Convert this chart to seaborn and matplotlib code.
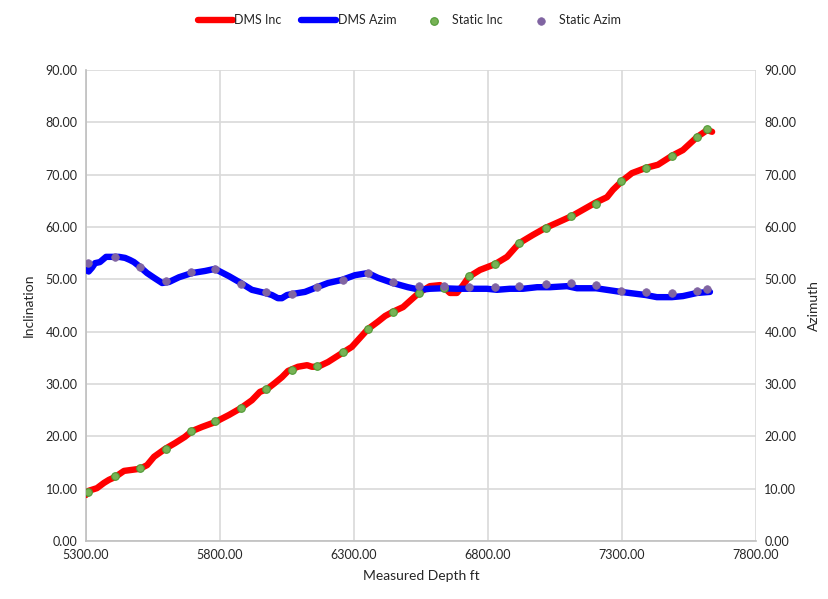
import matplotlib
matplotlib.use('Agg')
import matplotlib.pyplot as plt
from matplotlib.ticker import FormatStrFormatter, MultipleLocator
import pandas as pd
import seaborn as sns

# DMS survey (continuous)
dms_inc_depth = [5300, 5310, 5341, 5367, 5386, 5408, 5442, 5472, 5501, 5528, 5554, 5595,
                 5632, 5669, 5695, 5733, 5781, 5834, 5878, 5919, 5949, 5975, 6005, 6031,
                 6054, 6091, 6125, 6143, 6166, 6203, 6255, 6292, 6322, 6352, 6389, 6416,
                 6445, 6483, 6520, 6542, 6583, 6621, 6639, 6658, 6684, 6707, 6729, 6770,
                 6826, 6871, 6916, 6968, 7013, 7057, 7113, 7199, 7244, 7266, 7300, 7337,
                 7389, 7434, 7486, 7527, 7580, 7617, 7636]
dms_inc = [8.8, 9.6, 10.1, 11.1, 11.7, 12.2, 13.4, 13.6, 13.8, 14.5, 16.1, 17.6,
           18.7, 19.9, 21.0, 21.8, 22.7, 24.1, 25.4, 26.9, 28.5, 29.0, 30.2, 31.3,
           32.5, 33.3, 33.6, 33.3, 33.3, 34.2, 35.9, 37.1, 38.8, 40.5, 41.9, 43.0,
           43.8, 44.7, 46.4, 47.4, 48.7, 48.9, 48.3, 47.4, 47.4, 48.9, 50.5, 51.8,
           52.9, 54.3, 56.9, 58.5, 59.8, 60.8, 62.1, 64.6, 65.7, 67.1, 68.8, 70.3,
           71.3, 71.9, 73.6, 74.7, 77.2, 78.5, 78.2]

dms_azim_depth = [5300, 5310, 5322, 5334, 5352, 5375, 5397, 5423, 5446, 5464, 5479, 5501,
                  5528, 5554, 5584, 5610, 5647, 5695, 5744, 5781, 5834, 5878, 5919, 5968,
                  5994, 6016, 6031, 6050, 6069, 6117, 6162, 6203, 6255, 6304, 6352, 6389,
                  6445, 6501, 6546, 6583, 6632, 6684, 6733, 6796, 6833, 6882, 6930, 6983,
                  7031, 7095, 7132, 7203, 7296, 7389, 7430, 7486, 7527, 7580, 7628]
dms_azim = [51.8, 51.5, 52.2, 53.1, 53.3, 54.3, 54.3, 54.3, 54.1, 53.7, 53.3, 52.4,
            51.2, 50.3, 49.3, 49.5, 50.4, 51.2, 51.6, 52.0, 50.6, 49.3, 48.0, 47.4,
            47.0, 46.4, 46.4, 47.0, 47.2, 47.6, 48.5, 49.3, 49.9, 50.8, 51.2, 50.3,
            49.3, 48.5, 48.0, 48.2, 48.3, 48.2, 48.2, 48.2, 48.0, 48.2, 48.2, 48.5,
            48.5, 48.7, 48.3, 48.3, 47.6, 47.0, 46.6, 46.6, 46.8, 47.4, 47.6]

# static survey stations
static_depth = [5307, 5408, 5501, 5599, 5692, 5781, 5878, 5972, 6069, 6162, 6259, 6352,
                6446, 6542, 6635, 6729, 6826, 6916, 7016, 7110, 7203, 7296, 7390, 7487,
                7580, 7617]
static_inc = [9.4, 12.4, 14.0, 17.6, 21.0, 22.9, 25.4, 29.0, 32.7, 33.4, 36.1, 40.5,
              43.8, 47.4, 48.4, 50.6, 52.9, 56.9, 59.8, 62.1, 64.4, 68.8, 71.3, 73.6,
              77.2, 78.7]
static_azim = [53.1, 54.3, 52.4, 49.7, 51.4, 52.0, 49.1, 47.6, 47.2, 48.5, 49.9, 51.2,
               49.5, 48.7, 48.7, 48.5, 48.5, 48.7, 49.1, 49.3, 48.9, 47.8, 47.6, 47.4,
               47.8, 48.2]

depth_ticks = [5300, 5800, 6300, 6800, 7300, 7800]

sns.set_theme(style='white')
plt.rcParams['font.family'] = ['Lato', 'DejaVu Sans']

inc_df = pd.DataFrame({'depth': dms_inc_depth, 'value': dms_inc})
azim_df = pd.DataFrame({'depth': dms_azim_depth, 'value': dms_azim})
static_df = pd.DataFrame({'depth': static_depth, 'inc': static_inc, 'azim': static_azim})

fig = plt.figure(figsize=(8.29, 5.99), dpi=100)
ax = fig.add_axes([0.1037, 0.0968, 0.8083, 0.7863])

sns.lineplot(data=inc_df, x='depth', y='value', sort=False, color='#ff0000',
             linewidth=4.6, solid_capstyle='round', label='DMS Inc', ax=ax, zorder=3)
sns.lineplot(data=azim_df, x='depth', y='value', sort=False, color='#0000ff',
             linewidth=4.6, solid_capstyle='round', label='DMS Azim', ax=ax, zorder=4)
sns.scatterplot(data=static_df, x='depth', y='inc', color='#77b255', edgecolor='#4f9a35',
                linewidth=0.8, s=30, label='Static Inc', ax=ax, zorder=5)
sns.scatterplot(data=static_df, x='depth', y='azim', color='#8064a2', edgecolor='#8064a2',
                linewidth=0.5, s=30, label='Static Azim', ax=ax, zorder=6)

ax.set_xlim(depth_ticks[0], depth_ticks[-1])
ax.set_ylim(0, 90)
ax.set_xticks(depth_ticks)
ax.yaxis.set_major_locator(MultipleLocator(10))
ax.xaxis.set_major_formatter(FormatStrFormatter('%.2f'))
ax.yaxis.set_major_formatter(FormatStrFormatter('%.2f'))
ax.grid(True, color='#d9d9d9', linewidth=1.2)
ax.set_axisbelow(True)
for side in ['top', 'right']:
    ax.spines[side].set_visible(False)
for side in ['left', 'bottom']:
    ax.spines[side].set_color('#bfbfbf')
    ax.spines[side].set_linewidth(1.2)
ax.tick_params(axis='both', length=0, labelsize=9, colors='#262626', pad=6)
ax.set_xlabel('Measured Depth ft', fontsize=10, color='#262626', labelpad=6)
ax.set_ylabel('Inclination', fontsize=10, color='#262626', labelpad=8)

# secondary axis for azimuth (same 0-90 scale)
ax2 = ax.twinx()
ax2.set_ylim(ax.get_ylim())
ax2.yaxis.set_major_locator(MultipleLocator(10))
ax2.yaxis.set_major_formatter(FormatStrFormatter('%.2f'))
ax2.tick_params(axis='y', length=0, labelsize=9, colors='#262626', pad=6)
for side in ['top', 'right', 'left', 'bottom']:
    ax2.spines[side].set_visible(False)
ax2.set_ylabel('Azimuth', fontsize=10, color='#262626', labelpad=8)

handles, labels = ax.get_legend_handles_labels()
ax.legend_.remove()
fig.legend(handles, labels, loc='center', bbox_to_anchor=(0.494, 0.966), ncol=4,
           frameon=False, fontsize=9, handlelength=2.8, handletextpad=0.1,
           columnspacing=1.6, labelcolor='#262626')

fig.savefig('out.png', dpi=100)
